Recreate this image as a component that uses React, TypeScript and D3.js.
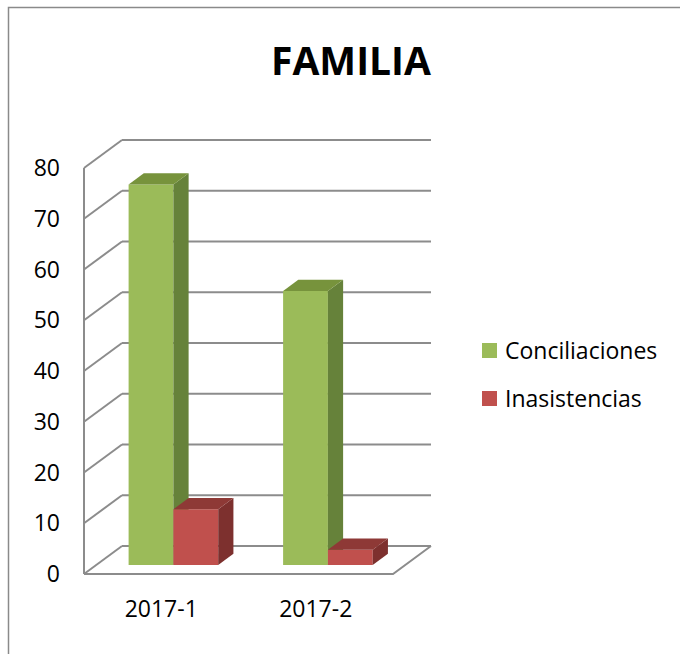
import React from "react";
import * as d3 from "d3";

const categories = ["2017-1", "2017-2"];
const seriesNames = ["Conciliaciones", "Inasistencias"];
const conciliaciones = [75, 54];
const inasistencias = [11, 3];
const yTicks = [0, 10, 20, 30, 40, 50, 60, 70, 80];

const front = ["#9BBB59", "#C0504D"];
const side = ["#66823A", "#7D302E"];
const top = ["#77933C", "#8E3936"];

const W = 680;
const H = 654;
const originX = 84;
const plotW = 309;
const depthX = 38;
const depthY = 28;
const barFront = 0.32;
const barDepth = 0.4;

const App: React.FC = () => {
  const y = d3.scaleLinear().domain([0, 80]).range([574, 168]);
  const x0 = d3.scaleBand<string>().domain(categories).range([0, plotW]).paddingInner(0.42).paddingOuter(0.21);
  const x1 = d3.scaleBand<string>().domain(seriesNames).range([0, x0.bandwidth()]);
  const values = [conciliaciones, inasistencias];

  // oblique projection: horizontal px, value, depth fraction
  const p = (xp: number, v: number, d: number): [number, number] => [
    originX + xp + d * depthX,
    y(v) - d * depthY,
  ];
  const pts = (a: [number, number][]) => a.map(q => q.join(",")).join(" ");
  const grid = "#8c8c8c";

  return (
    <div style={{ position: "absolute", left: 0, top: 0 }}>
      <svg width={W} height={H} style={{ fontFamily: "'Open Sans', sans-serif" }}>
        <rect x={0} y={0} width={W} height={H} fill="#fff" />
        <rect x={8.5} y={7.5} width={W + 20} height={H + 20} fill="none" stroke="#8a8a8a" strokeWidth={1.5} />
        <text x={351} y={75} textAnchor="middle" fontSize={39} fontWeight="bold" fill="#000">FAMILIA</text>

        {/* back wall gridlines and left wall */}
        {yTicks.map(t => (
          <g key={t}>
            <line x1={p(0, t, 1)[0]} y1={p(0, t, 1)[1]} x2={p(plotW, t, 1)[0]} y2={p(plotW, t, 1)[1]} stroke={grid} strokeWidth={2} />
            <polyline points={pts([p(0, t, 1), p(0, t, 0)])} fill="none" stroke={grid} strokeWidth={2} />
            <text x={60} y={y(t)} dy="0.35em" textAnchor="end" fontSize={23} fill="#000">{t}</text>
          </g>
        ))}
        <line x1={originX} y1={y(0)} x2={originX} y2={y(80)} stroke={grid} strokeWidth={2} />
        <polyline points={pts([p(0, 0, 0), p(plotW, 0, 0), p(plotW, 0, 1)])} fill="none" stroke={grid} strokeWidth={2} />

        {/* bars */}
        {categories.map((c, ci) => (
          <g key={c}>
            {seriesNames.map((s, si) => {
              const v = values[si][ci];
              const a = (x0(c) || 0) + (x1(s) || 0);
              const b = a + x1.bandwidth();
              const d0 = barFront;
              const d1 = barFront + barDepth;
              return (
                <g key={s}>
                  <polygon points={pts([p(a, 0, d0), p(b, 0, d0), p(b, v, d0), p(a, v, d0)])} fill={front[si]} />
                  <polygon points={pts([p(b, 0, d0), p(b, 0, d1), p(b, v, d1), p(b, v, d0)])} fill={side[si]} />
                  <polygon points={pts([p(a, v, d0), p(b, v, d0), p(b, v, d1), p(a, v, d1)])} fill={top[si]} />
                </g>
              );
            })}
            <text x={originX + (x0(c) || 0) + x0.bandwidth() / 2} y={609} dy="0.35em" textAnchor="middle" fontSize={23} fill="#000">{c}</text>
          </g>
        ))}

        {/* legend */}
        {seriesNames.map((s, i) => (
          <g key={s} transform={`translate(482,${343 + i * 48})`}>
            <rect x={0} y={0} width={15} height={15} fill={front[i]} />
            <text x={23} y={7.5} dy="0.35em" fontSize={23} fill="#000">{s}</text>
          </g>
        ))}
      </svg>
    </div>
  );
};

export default App;
